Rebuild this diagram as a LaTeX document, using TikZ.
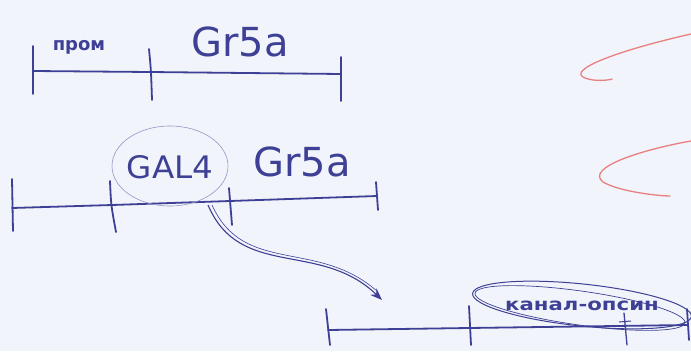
\documentclass[tikz,border=0pt]{standalone}
\usepackage{fontspec}
\setmainfont{DejaVu Sans}
\usetikzlibrary{arrows.meta}
\definecolor{ink}{RGB}{62,64,150}
\definecolor{paper}{RGB}{241,244,250}
\definecolor{redpen}{RGB}{232,128,128}
\definecolor{lightink}{RGB}{150,150,200}
\begin{document}
\begin{tikzpicture}[x=1pt,y=-1pt,
  seg/.style={draw=ink,line width=1.8pt,line cap=round},
  tick/.style={draw=ink,line width=1.8pt,line cap=round},
  big/.style={text=ink,font=\fontsize{40}{40}\selectfont,inner sep=0pt},
  small/.style={text=ink,font=\fontsize{18}{18}\selectfont\bfseries,inner sep=0pt},
  mid/.style={text=ink,font=\fontsize{31}{31}\selectfont,inner sep=0pt,xscale=1.05},
  tiny/.style={text=ink,font=\fontsize{17}{17}\selectfont\bfseries,inner sep=0pt,xscale=1.25},
  curl/.style={draw=redpen,line width=1.3pt,line cap=round}]
\fill[paper] (0,0) rectangle (691,351);
\useasboundingbox (0,0) rectangle (691,351);

% Row 1
\coordinate (a1) at (33,71);
\coordinate (a2) at (150,72);
\coordinate (a3) at (341,74);
\draw[seg] (a1) -- (a2) -- (a3);
\draw[tick] (33,46) -- (33,94);
\draw[tick] (149,49) .. controls (151,70) .. (152,100);
\draw[tick] (341,57) -- (341,101);
\node[small] (prom) at (79,47) {пром};
\node[big] (gr1) at (240,42) {Gr5a};

% Row 2
\coordinate (b1) at (12,208);
\coordinate (b2) at (112,205);
\coordinate (b3) at (230,201);
\coordinate (b4) at (377,196);
\draw[seg] (b1) -- (b2) -- (b3) -- (b4);
\draw[tick] (12,179) -- (13,231);
\draw[tick] (110,181) .. controls (111,205) .. (116,232);
\draw[tick] (229,188) -- (232,225);
\draw[tick] (376,182) -- (378,210);
\node[mid] (gal) at (170,167) {GAL4};
\coordinate (galc) at (170,166);
\draw[lightink,line width=0.6pt] (galc) ellipse [x radius=58, y radius=40];
\node[big] (gr2) at (302,162) {Gr5a};

% Arrow
\coordinate (arrS) at (208,205);
\coordinate (arrE) at (382,300);
\draw[ink,line width=1.1pt,-{Stealth[length=12pt,width=9pt]}]
  (arrS) .. controls (240,280) and (320,240) .. (arrE);
\draw[ink,line width=0.6pt] (212,205) .. controls (244,276) and (318,238) .. (378,292);

% Row 3
\coordinate (c1) at (328,330);
\coordinate (c2) at (469,328);
\coordinate (c3) at (688,325);
\draw[seg] (c1) -- (c2) -- (c3);
\draw[tick] (326,309) -- (330,345);
\draw[tick] (469,306) -- (471,345);
\draw[tick] (687,309) -- (689,340);
\draw[tick,line width=1.3pt] (624,313) -- (627,345);
\draw[ink,line width=1pt] (619,322) -- (631,321);
\node[tiny] (kan) at (582,306) {канал-опсин};
\draw[ink,line width=1pt,rotate around={-6:(582,305)}] (582,305) ellipse [x radius=110, y radius=21];
\draw[ink,line width=0.7pt,rotate around={-8:(580,308)}] (580,308) ellipse [x radius=106, y radius=17];

% Red curls
\draw[curl] (691,34) .. controls (620,50) and (565,70) .. (585,78) .. controls (595,82) and (610,80) .. (612,79);
\draw[curl] (691,141) .. controls (640,150) and (585,168) .. (603,182) .. controls (620,192) and (660,196) .. (670,196);
\end{tikzpicture}
\end{document}
